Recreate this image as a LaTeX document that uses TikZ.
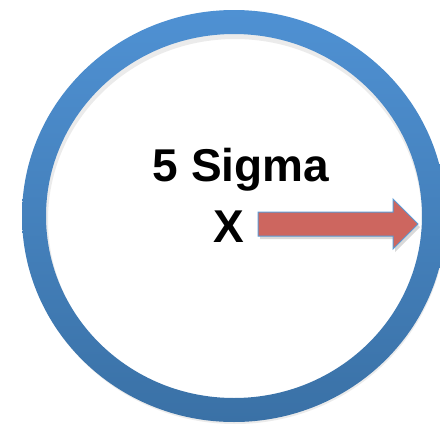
\documentclass[tikz,border=0pt]{standalone}
\usepackage{fontspec}
\setmainfont{Liberation Sans}
\definecolor{ringtop}{HTML}{4F91D3}
\definecolor{ringbot}{HTML}{3A71A6}
\definecolor{arrowfill}{HTML}{CD665F}
\definecolor{arrowline}{HTML}{5B9BD5}
\begin{document}
\begin{tikzpicture}[x=1pt,y=-1pt,
  label/.style={inner sep=0pt,anchor=base,font=\fontsize{46}{50}\selectfont\bfseries},
  ring/.style={top color=ringtop,bottom color=ringbot,even odd rule},
  arrowshape/.style={fill=arrowfill,draw=arrowline,line width=1pt,line join=miter}]
\useasboundingbox (0,0) rectangle (440,424);
\fill[white] (0,0) rectangle (440,424);
% soft shadow
\fill[black,opacity=0.08,even odd rule] (235,219) ellipse [x radius=211,y radius=205] (235,220) ellipse [x radius=187,y radius=181];
% ring
\coordinate (c) at (234,216);
\shade[ring] (c) ellipse [x radius=212,y radius=206] (c) ellipse [x radius=188,y radius=182];
% text
\node[label] (sigma) at (241,181) {5 Sigma};
\node[label] (x) at (229,242) {X};
% arrow
\coordinate (a1) at (258,212);
\coordinate (a2) at (393,212);
\coordinate (a3) at (393,199);
\coordinate (tip) at (418,224);
\coordinate (a5) at (393,249);
\coordinate (a6) at (393,236);
\coordinate (a7) at (258,236);
\fill[black,opacity=0.15] ([shift={(2,3)}]a1) -- ([shift={(2,3)}]a2) -- ([shift={(2,3)}]a3) -- ([shift={(2,3)}]tip) -- ([shift={(2,3)}]a5) -- ([shift={(2,3)}]a6) -- ([shift={(2,3)}]a7) -- cycle;
\draw[arrowshape] (a1) -- (a2) -- (a3) -- (tip) -- (a5) -- (a6) -- (a7) -- cycle;
\end{tikzpicture}
\end{document}
